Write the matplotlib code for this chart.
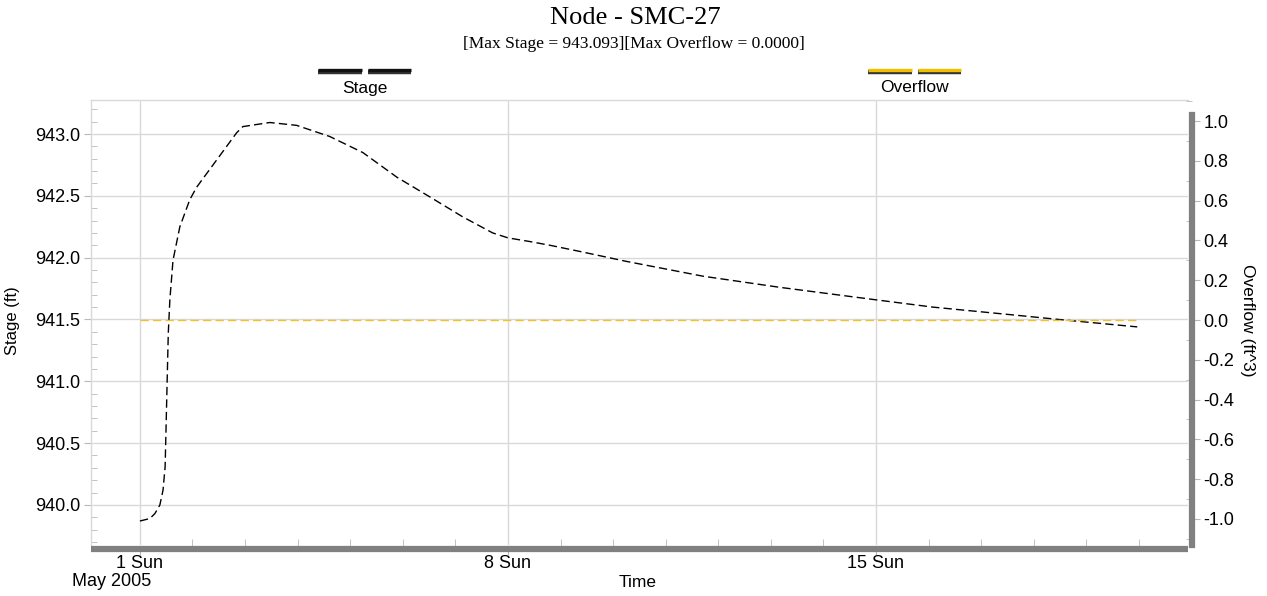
import matplotlib
matplotlib.use("Agg")
import matplotlib.pyplot as plt
import matplotlib.dates as mdates
from matplotlib.lines import Line2D
from matplotlib.ticker import MultipleLocator, FormatStrFormatter
import pandas as pd

# data (days after 1 May 2005 00:00)
start = pd.Timestamp("2005-05-01")
stage_days = [0.0, 0.19, 0.285, 0.38, 0.44, 0.48, 0.51, 0.54, 0.57, 0.63, 0.76,
              0.95, 1.08, 1.46, 1.84, 1.96, 2.47, 2.98, 3.61, 4.24, 4.89, 5.52,
              6.14, 6.71, 7.0, 7.42, 7.80, 8.37, 9.25, 10.71, 12.17, 13.98,
              15.08, 16.53, 17.48, 18.97]
stage_ft = [939.87, 939.89, 939.93, 940.0, 940.12, 940.31, 940.85, 941.39,
            941.66, 941.98, 942.25, 942.47, 942.57, 942.79, 943.01, 943.06,
            943.093, 943.07, 942.98, 942.85, 942.65, 942.49, 942.33, 942.20,
            942.16, 942.13, 942.10, 942.05, 941.97, 941.85, 941.76, 941.66,
            941.60, 941.54, 941.50, 941.44]
overflow_days = [0.0, 18.97]
overflow_cfs = [0.0, 0.0]
label_days = [0, 7, 14]
day_labels = ["1 Sun", "8 Sun", "15 Sun"]

plt.rcParams["font.family"] = ["Liberation Sans", "DejaVu Sans"]
plt.rcParams["axes.unicode_minus"] = False

W, H = 1267, 596
fig = plt.figure(figsize=(W / 100, H / 100), dpi=100)
ax = fig.add_axes([91 / W, 1 - 545 / H, (1188 - 91) / W, 445 / H])
ax2 = ax.twinx()

grid_c = "#d9d9d9"
tick_c = "#b8b8b8"
bar_c = "#808080"

t_stage = start + pd.to_timedelta(stage_days, unit="D")
t_over = start + pd.to_timedelta(overflow_days, unit="D")
ax.plot(t_stage, stage_ft, color="black", lw=1.0, ls=(0, (6, 3)), zorder=3)
ax2.plot(t_over, overflow_cfs, color="#f2c12e", lw=1.0, ls=(0, (6, 3)), zorder=3)

ax.set_xlim(start - pd.Timedelta(days=0.93), start + pd.Timedelta(days=19.935))
ax.set_ylim(939.676, 943.275)
ax2.set_ylim(-1.131, 1.106)

# x axis
ax.set_xticks([start + pd.Timedelta(days=d) for d in label_days])
ax.set_xticklabels(day_labels)
ax.xaxis.set_minor_locator(mdates.DayLocator())
ax.tick_params(axis="x", which="major", direction="out", length=4, color=tick_c,
               labelsize=13, pad=0.5)
ax.tick_params(axis="x", which="minor", direction="in", length=7, color=tick_c)

# left y axis
ax.yaxis.set_major_locator(MultipleLocator(0.5))
ax.yaxis.set_minor_locator(MultipleLocator(0.1))
ax.yaxis.set_major_formatter(FormatStrFormatter("%.1f"))
ax.tick_params(axis="y", which="major", direction="out", length=5, color=tick_c,
               labelsize=13, pad=3)
ax.tick_params(axis="y", which="minor", direction="in", length=4, color=tick_c)

# right y axis
ax2.yaxis.set_major_locator(MultipleLocator(0.2))
ax2.yaxis.set_minor_locator(MultipleLocator(0.1))
ax2.yaxis.set_major_formatter(FormatStrFormatter("%.1f"))
ax2.tick_params(axis="y", which="major", direction="out", length=6, color=tick_c,
                labelsize=13, pad=2)
ax2.tick_params(axis="y", which="minor", direction="in", length=4, color=tick_c)

ax.grid(True, which="major", color=grid_c, lw=1.0)
ax.set_axisbelow(True)

for s in ["left", "top"]:
    ax.spines[s].set_color(grid_c)
    ax.spines[s].set_linewidth(1.0)
ax.spines["right"].set_visible(False)
ax.spines["bottom"].set_color(bar_c)
ax.spines["bottom"].set_linewidth(4.5)
ax.spines["bottom"].set_position(("outward", 3))
ax.spines["bottom"].set_capstyle("butt")
for s in ["left", "top", "bottom"]:
    ax2.spines[s].set_visible(False)
ax2.spines["right"].set_color(bar_c)
ax2.spines["right"].set_linewidth(4.5)
ax2.spines["right"].set_position(("outward", 3))
ax2.spines["right"].set_bounds(-1.131, 1.03)

ax.set_ylabel("Stage (ft)", fontsize=12)
ax.yaxis.set_label_coords(-0.0647, 0.505)
ax2.set_ylabel("Overflow (ft^3)", fontsize=12.5, rotation=-90, va="center")
ax2.yaxis.set_label_coords(1.0538, 0.505)
ax.set_xlabel("Time", fontsize=12.5)
ax.xaxis.set_label_coords(0.4986, -0.068)
fig.text(112 / W, 1 - 582 / H, "May 2005", fontsize=13, ha="center", va="center")

# title
fig.text(635 / W, 1 - 18 / H, "Node - SMC-27", family="Liberation Serif",
         fontsize=19, ha="center", va="center")
fig.text(634 / W, 1 - 44 / H, "[Max Stage = 943.093][Max Overflow = 0.0000]",
         family="Liberation Serif", fontsize=12.5, ha="center", va="center")

# legend above plot
def legend_item(x0, x1, x2, x3, label, color):
    for a, b in [(x0, x1), (x2, x3)]:
        fig.add_artist(Line2D([a / W, b / W], [1 - 71.5 / H, 1 - 71.5 / H],
                              transform=fig.transFigure, color="#333333", lw=3.2,
                              solid_capstyle="butt"))
        fig.add_artist(Line2D([a / W, b / W], [1 - 70 / H, 1 - 70 / H],
                              transform=fig.transFigure, color=color, lw=2.4,
                              solid_capstyle="butt"))
    fig.text((x0 + x3) / 2 / W, 1 - 88 / H, label, fontsize=12.5,
             ha="center", va="center")

legend_item(318, 362, 368, 411, "Stage", "#111111")
legend_item(868, 912, 918, 961, "Overflow", "#f0c000")

fig.savefig("out.png", dpi=100)
